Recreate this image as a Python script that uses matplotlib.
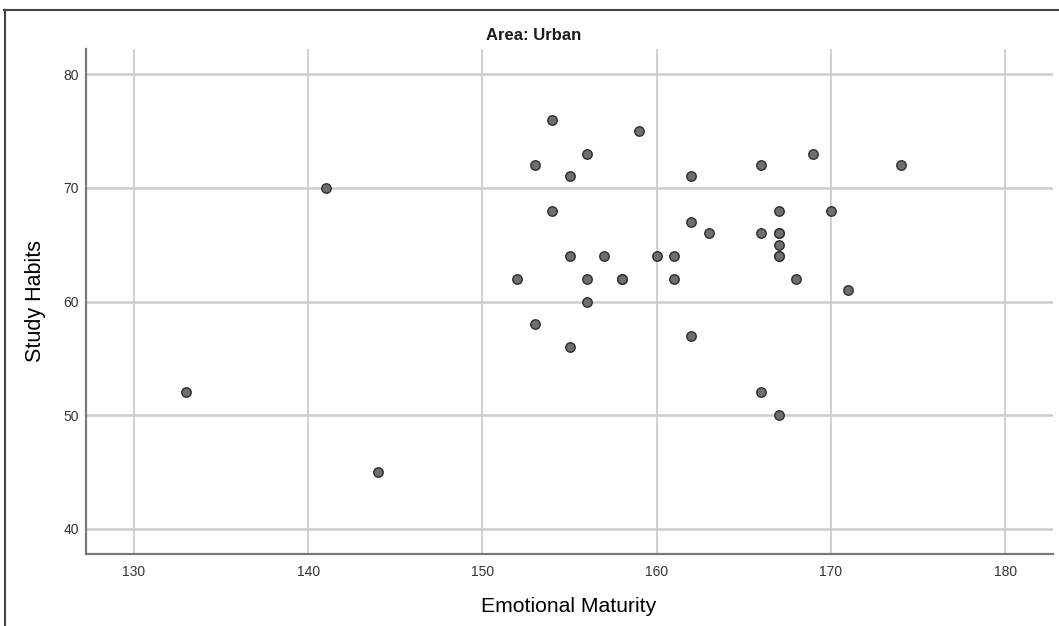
import numpy as np
import matplotlib
matplotlib.use('Agg')
import matplotlib.pyplot as plt
from matplotlib.lines import Line2D

plt.rcParams['font.family'] = ['Liberation Sans', 'DejaVu Sans']

# data (Area: Urban)
emotional_maturity = [133, 141, 144, 152, 153, 153, 154, 154, 155, 155, 155,
                      156, 156, 156, 157, 158, 158, 159, 160, 161, 161,
                      162, 162, 162, 163, 166, 166, 166, 167, 167, 167, 167,
                      167, 167, 167, 168, 169, 170, 171, 174]
study_habits = [52, 70, 45, 62, 72, 58, 76, 68, 71, 64, 56,
                73, 62, 60, 64, 62, 62, 75, 64, 64, 62,
                71, 67, 57, 66, 72, 66, 52, 68, 66, 66, 65,
                64, 64, 50, 62, 73, 68, 61, 72]
x_ticks = [130, 140, 150, 160, 170, 180]
y_ticks = [40, 50, 60, 70, 80]

fig = plt.figure(figsize=(10.59, 6.26), dpi=100)
ax = fig.add_axes([86/1059, 1 - 554/626, (1053-86)/1059, (554-49)/626])

ax.set_xlim(127.25, 182.75)
ax.set_ylim(37.8, 82.2)
ax.set_xticks(x_ticks)
ax.set_yticks(y_ticks)

for v in x_ticks:
    ax.axvline(v, color='#c8c8c8', lw=1.2, zorder=0)
for v in y_ticks:
    ax.axhline(v, color='#cdcdcd', lw=1.8, zorder=0)

ax.plot(emotional_maturity, study_habits, 'o', ms=6.8, mfc='#6e6e6e',
        mec='#2e2e2e', mew=1.0, ls='none', zorder=3)

for s in ['top', 'right']:
    ax.spines[s].set_visible(False)
for s in ['left', 'bottom']:
    ax.spines[s].set_color('#7a7a7a')
    ax.spines[s].set_linewidth(1.6)

ax.tick_params(length=0, labelsize=10, labelcolor='#333333')
ax.tick_params(axis='x', pad=8)
ax.tick_params(axis='y', pad=5)

fig.text(534/1059, 1 - 36/626, 'Area: Urban', ha='center', va='center',
         fontsize=12, fontweight='bold', color='#1a1a1a')
fig.text(569/1059, 1 - 606/626, 'Emotional Maturity', ha='center',
         va='center', fontsize=15.2, color='#000000')
fig.text(36/1059, 1 - 301/626, 'Study Habits', ha='center', va='center',
         fontsize=15.5, rotation=90, color='#000000')

# outer frame: top and left edges only
fig.add_artist(Line2D([4/1059, 1], [1 - 10/626, 1 - 10/626],
                      transform=fig.transFigure, color='#444444', lw=1.5))
fig.add_artist(Line2D([4.5/1059, 4.5/1059], [0, 1 - 10/626],
                      transform=fig.transFigure, color='#444444', lw=1.5))

fig.savefig('out.png', dpi=100)
